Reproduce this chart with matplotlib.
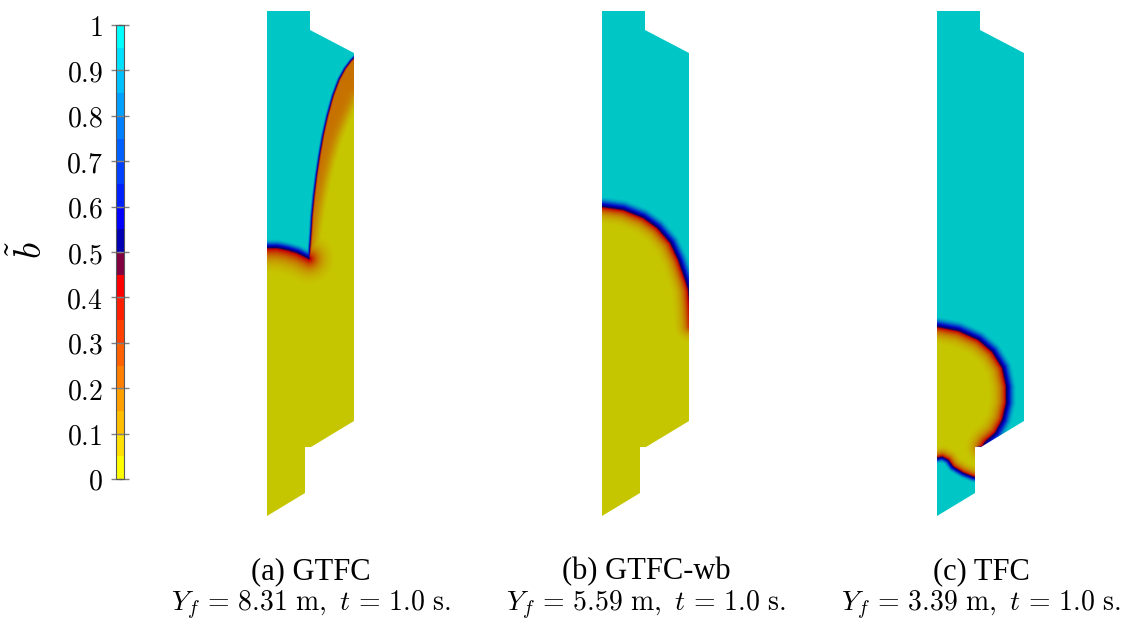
import numpy as np
import matplotlib
matplotlib.use("Agg")
import matplotlib.pyplot as plt
from matplotlib.colors import LinearSegmentedColormap, ListedColormap, Normalize
from matplotlib.path import Path
from matplotlib.patches import Polygon
import matplotlib.cm as cm

plt.rcParams['mathtext.fontset'] = 'cm'

# captions
case_labels = ['(a) GTFC', '(b) GTFC-wb', '(c) TFC']
flame_height = [8.31, 5.59, 3.39]   # Y_f [m]
time_s = [1.0, 1.0, 1.0]

# colorbar
cb_ticks = [0, 0.1, 0.2, 0.3, 0.4, 0.5, 0.6, 0.7, 0.8, 0.9, 1]
cb_ticklabels = ['0', '0.1', '0.2', '0.3', '0.4', '0.5', '0.6', '0.7', '0.8', '0.9', '1']
n_levels = 20

# vessel outline (x right, y up, same units in all panels)
vessel_x = [0, 43, 43, 87, 87, 44, 38, 38, 0]
vessel_y = [505, 505, 486, 463, 95, 69, 69, 23, 0]

# flame fronts (b~0.5 iso-line)
# (a) GTFC
a_arc_x = [-3, 0, 10, 20, 30, 38, 42]
a_arc_y = [268, 268, 268, 266, 263, 259, 257]
a_side_x = [42, 43, 44, 45, 47, 49.5, 52.5, 56, 60.5, 66, 72, 78, 84, 88, 91]
a_side_y = [257, 270, 283, 300, 320, 340, 360, 380, 400, 420, 436, 447, 455, 459, 461]
# inner edge of the orange layer behind the side front
a_band_x = [47, 50, 54, 59, 64, 71, 79, 86, 88]
a_band_y = [262, 285, 310, 335, 355, 378, 398, 413, 418]
a_band_level = 0.2
# (b) GTFC-wb
b_front_x = [-3, 0, 21, 41, 55, 68, 76, 83, 86, 87.5, 89]
b_front_y = [309, 309, 306, 298, 288, 273, 256, 236, 226, 210, 190]
# (c) TFC
c_upper_x = [-3, 0, 21, 41, 55, 65, 69, 69, 65, 58, 48, 45]
c_upper_y = [189, 189, 185, 176, 164, 148, 129, 113, 96, 83, 74, 69]
c_lower_x = [-3, 0, 5, 11, 16, 26, 36, 40]
c_lower_y = [58, 58, 59, 56, 49, 43, 39, 38]

# colour map (ParaView-like, blue above 0.5, red/yellow below)
cmap_nodes = [(0.0, (1, 1, 0)), (0.025, (1, 1, 0)), (0.425, (1, 0, 0)), (0.45, (1, 0, 0)),
              (0.45, (0.5, 0, 0.25)), (0.5, (0.5, 0, 0.25)), (0.5, (0, 0, 0.55)),
              (0.575, (0, 0, 1)), (0.975, (0, 1, 1)), (1.0, (0, 1, 1))]
cmap = LinearSegmentedColormap.from_list('bcmap', cmap_nodes, N=512)
shade = 0.78
field_cmap = LinearSegmentedColormap.from_list(
    'bshade', [(v, tuple(shade * c for c in col)) for v, col in cmap_nodes], N=512)
bar_cmap = ListedColormap(cmap(np.linspace(0.025, 0.975, n_levels)))

# grid for the fields
gx = np.arange(-3, 92, 0.5)
gy = np.arange(-3, 510, 0.5)
X, Y = np.meshgrid(gx, gy)
pts = np.c_[X.ravel(), Y.ravel()]


def seg_dist(xs, ys):
    d = np.full(X.shape, np.inf)
    for x0, y0, x1, y1 in zip(xs[:-1], ys[:-1], xs[1:], ys[1:]):
        dx, dy = x1 - x0, y1 - y0
        t = np.clip(((X - x0) * dx + (Y - y0) * dy) / (dx * dx + dy * dy), 0, 1)
        d = np.minimum(d, np.hypot(X - x0 - t * dx, Y - y0 - t * dy))
    return d


def inside(poly):
    return Path(poly).contains_points(pts).reshape(X.shape)


def field(fronts, burnt_poly, band=None):
    burnt = inside(burnt_poly)
    b_unb = np.ones_like(X)
    b_brn = np.zeros_like(X)
    for fx, fy, wu, wb in fronts:
        d = seg_dist(fx, fy)
        b_unb = np.minimum(b_unb, 1 - 0.5 * np.exp(-(d / wu) ** 2))
        b_brn = np.maximum(b_brn, 0.5 * np.exp(-d / wb))
    if band is not None:
        bx, by, level, w, poly = band
        d2 = seg_dist(bx, by)
        s = np.where(inside(poly), d2, -d2)
        b_brn = np.maximum(b_brn, level / (1 + np.exp(-s / w)))
    return np.where(burnt, b_brn, b_unb)


# (a)
poly_a = list(zip(a_arc_x, a_arc_y)) + list(zip(a_side_x, a_side_y)) + [(95, 461), (95, -5), (-5, -5), (-5, 268)]
band_poly_a = list(zip(a_band_x, a_band_y)) + [(95, 418), (95, 515), (20, 515), (20, 262)]
field_a = field([(a_arc_x, a_arc_y, 5, 9), (a_side_x, a_side_y, 1.6, 1.5)], poly_a,
                (a_band_x, a_band_y, a_band_level, 3, band_poly_a))
# (b)
poly_b = list(zip(b_front_x, b_front_y)) + [(95, 190), (95, -5), (-5, -5), (-5, 309)]
field_b = field([(b_front_x, b_front_y, 6, 6)], poly_b)
# (c)
poly_c = (list(zip(c_upper_x, c_upper_y)) + [(40, 69), (40, 38)]
          + list(zip(c_lower_x, c_lower_y))[::-1][1:])
field_c = field([(c_upper_x, c_upper_y, 6, 6), (c_lower_x, c_lower_y, 3.5, 4)], poly_c)

fields = [field_a, field_b, field_c]
panel_left = [267, 602, 937]

W, H = 1123, 624
fig = plt.figure(figsize=(W / 100, H / 100), dpi=100)


def px_axes(left, top, width, height):
    return fig.add_axes([left / W, 1 - (top + height) / H, width / W, height / H])


for k, (b, x0) in enumerate(zip(fields, panel_left)):
    ax = px_axes(x0 - 5, 6, 100, 515)
    im = ax.imshow(b, origin='lower', extent=(gx[0], gx[-1], gy[0], gy[-1]),
                   cmap=field_cmap, vmin=0, vmax=1, interpolation='bilinear', aspect='auto')
    vessel = Polygon(np.c_[vessel_x, vessel_y], closed=True, transform=ax.transData,
                     facecolor='none', edgecolor='none')
    ax.add_patch(vessel)
    im.set_clip_path(vessel)
    ax.set_xlim(-5, 95)
    ax.set_ylim(-5, 510)
    ax.axis('off')
    cx = (x0 + 44) / W
    fig.text(cx, 1 - 572 / H, case_labels[k], ha='center', va='center',
             fontsize=22, family='Liberation Serif')
    fig.text(cx, 1 - 605 / H,
             r'$Y_f\,=\,%.2f\ \mathrm{m},\ t\,=\,%.1f\ \mathrm{s.}$' % (flame_height[k], time_s[k]),
             ha='center', va='center', fontsize=20)

# colorbar
cax = px_axes(116, 25, 8, 454)
cb = fig.colorbar(cm.ScalarMappable(norm=Normalize(0, 1), cmap=bar_cmap), cax=cax, ticks=cb_ticks)
cb.outline.set_edgecolor('0.35')
cb.outline.set_linewidth(0.8)
cax.yaxis.set_ticks_position('both')
cax.tick_params(axis='y', direction='inout', length=7, width=1.0, color='0.5',
                left=True, right=True, labelleft=True, labelright=False, pad=6)
cax.set_yticklabels(['$%s$' % s for s in cb_ticklabels], fontsize=20)
fig.text(30 / W, 1 - 250 / H, r'$\tilde{b}$', rotation=90, ha='center', va='center', fontsize=27)

fig.savefig('out.png', dpi=100)
